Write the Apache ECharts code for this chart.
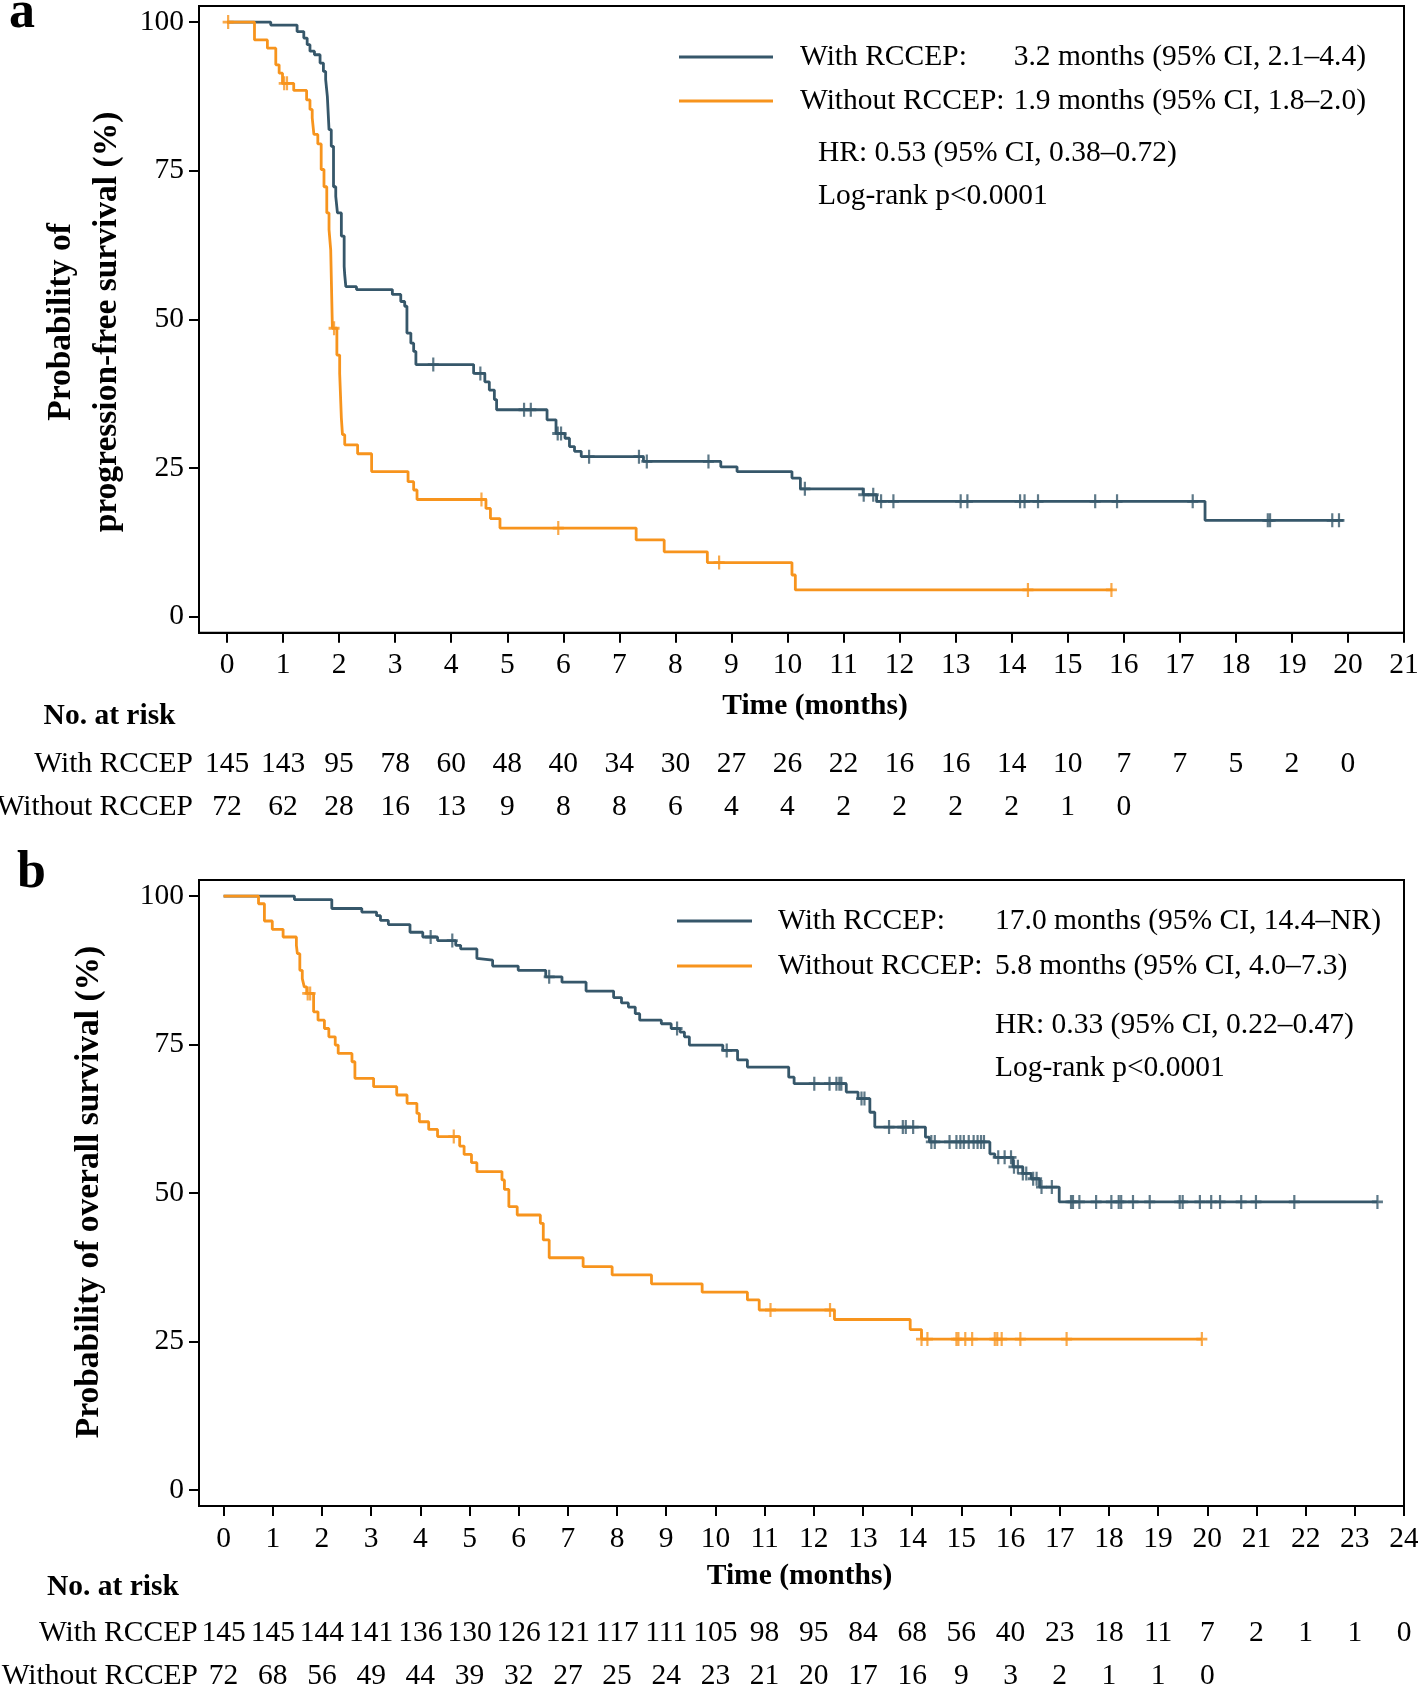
<!DOCTYPE html>
<html><head><meta charset="utf-8">
<script src="https://cdn.jsdelivr.net/npm/echarts@6/dist/echarts.min.js"></script>
<style>html,body{margin:0;padding:0;background:#fff}#c{width:1418px;height:1685px}</style>
</head><body><div id="c"></div>
<script>
const FONT = '"Liberation Serif","Times New Roman",serif';
const BLUE = '#36576a';
const ORANGE = '#f7941d';

// ---------- Panel a: progression-free survival ----------
const pfsTicksX = [0,1,2,3,4,5,6,7,8,9,10,11,12,13,14,15,16,17,18,19,20,21];
const yTicks = [0,25,50,75,100];
const pfsWith = [[0,100],[0.78,99.5],[1.25,98.4],[1.37,97.3],[1.43,96.2],[1.48,95.1],[1.56,94.5],[1.66,93.1],[1.72,91.7],[1.76,90.3],[1.79,87.5],[1.82,81.9],[1.86,79.1],[1.90,72.3],[1.94,70.7],[1.97,67.9],[2.04,64.0],[2.09,58.9],[2.10,57.5],[2.12,55.5],[2.31,55.0],[2.95,54.2],[3.10,53.0],[3.17,52.2],[3.21,47.7],[3.28,46.0],[3.33,44.6],[3.37,42.4],[4.40,40.9],[4.60,39.5],[4.68,38.1],[4.77,36.5],[4.81,34.8],[5.71,33.1],[5.87,30.8],[6.03,30.0],[6.11,28.6],[6.20,27.8],[6.32,26.9],[7.43,26.1],[8.81,25.2],[9.10,24.4],[10.08,23.3],[10.23,21.5],[11.35,20.5],[11.59,19.4],[17.45,16.2],[19.92,16.2]];
const pfsWithCensor = [[3.68,42.4],[4.52,40.9],[5.30,34.8],[5.42,34.8],[5.90,30.8],[5.96,30.8],[6.46,26.9],[7.35,26.9],[7.49,26.1],[8.59,26.1],[10.31,21.5],[11.36,20.5],[11.53,20.5],[11.67,19.4],[11.89,19.4],[13.09,19.4],[13.21,19.4],[14.15,19.4],[14.23,19.4],[14.47,19.4],[15.49,19.4],[15.88,19.4],[17.23,19.4],[18.57,16.2],[18.61,16.2],[19.72,16.2],[19.84,16.2]];
const pfsWithout = [[0,100],[0.49,97.0],[0.72,95.6],[0.87,92.8],[0.93,91.4],[0.99,89.7],[1.19,88.5],[1.42,86.9],[1.48,85.3],[1.52,83.9],[1.55,81.1],[1.62,79.5],[1.68,75.2],[1.73,72.3],[1.78,67.9],[1.82,65.1],[1.85,61.7],[1.88,48.5],[1.96,44.0],[2.01,40.9],[2.04,33.4],[2.06,30.6],[2.10,28.9],[2.33,27.4],[2.58,24.4],[3.23,22.7],[3.33,21.3],[3.39,19.7],[4.62,18.2],[4.70,16.5],[4.87,14.9],[7.30,12.9],[7.80,10.9],[8.57,9.1],[10.08,7.0],[10.14,4.5],[15.80,4.5]];
const pfsWithoutCensor = [[0.02,100],[1.02,89.7],[1.07,89.7],[1.91,48.5],[4.54,19.7],[5.91,14.9],[8.78,9.1],[14.29,4.5],[15.78,4.5]];
const pfsRiskWith = [145,143,95,78,60,48,40,34,30,27,26,22,16,16,14,10,7,7,5,2,0];
const pfsRiskWithout = [72,62,28,16,13,9,8,8,6,4,4,2,2,2,2,1,0];

// ---------- Panel b: overall survival ----------
const osTicksX = [0,1,2,3,4,5,6,7,8,9,10,11,12,13,14,15,16,17,18,19,20,21,22,23,24];
const osWith = [[0,100],[1.44,99.4],[2.20,97.9],[2.81,97.3],[3.11,96.7],[3.19,95.9],[3.35,95.2],[3.79,93.9],[4.05,93.1],[4.35,92.5],[4.72,91.7],[4.82,91.1],[5.15,89.5],[5.19,89.2],[5.47,88.2],[5.99,87.5],[6.55,86.4],[6.88,85.5],[7.37,84.0],[7.93,82.9],[8.09,82.0],[8.23,81.3],[8.37,80.2],[8.46,79.1],[8.90,78.5],[9.10,77.7],[9.28,77.1],[9.37,76.3],[9.47,74.9],[10.15,74.0],[10.45,72.4],[10.65,71.2],[11.49,69.5],[11.60,68.4],[12.66,67.0],[12.90,65.9],[13.14,63.6],[13.24,61.1],[14.27,59.4],[14.35,58.6],[15.58,56.6],[15.68,56.0],[16.05,54.4],[16.25,53.3],[16.42,52.4],[16.59,51.0],[16.99,48.5],[23.46,48.5]];
const osWithCensor = [[4.21,93.1],[4.65,92.5],[6.62,86.4],[9.22,77.7],[10.23,74.0],[12.01,68.4],[12.32,68.4],[12.46,68.4],[12.52,68.4],[12.56,68.4],[12.97,65.9],[13.03,65.9],[13.53,61.1],[13.81,61.1],[13.87,61.1],[14.02,61.1],[14.39,58.6],[14.46,58.6],[14.76,58.6],[14.90,58.6],[14.98,58.6],[15.05,58.6],[15.15,58.6],[15.25,58.6],[15.33,58.6],[15.40,58.6],[15.46,58.6],[15.75,56.0],[15.88,56.0],[16.01,56.0],[16.07,54.4],[16.15,54.4],[16.25,53.3],[16.32,53.3],[16.46,52.4],[16.53,52.4],[16.63,51.0],[16.84,51.0],[17.23,48.5],[17.27,48.5],[17.40,48.5],[17.74,48.5],[18.05,48.5],[18.20,48.5],[18.25,48.5],[18.49,48.5],[18.83,48.5],[19.44,48.5],[19.50,48.5],[19.85,48.5],[20.08,48.5],[20.26,48.5],[20.69,48.5],[20.99,48.5],[21.77,48.5],[23.46,48.5]];
const osWithout = [[0,100],[0.71,98.7],[0.83,95.8],[0.99,94.4],[1.21,93.1],[1.48,91.7],[1.50,90.3],[1.55,87.5],[1.60,86.1],[1.64,84.7],[1.69,83.6],[1.83,80.5],[1.92,79.1],[2.05,77.7],[2.14,76.3],[2.27,74.9],[2.33,73.5],[2.61,72.1],[2.67,69.3],[3.05,67.9],[3.52,66.5],[3.73,65.1],[3.93,63.4],[3.98,62.0],[4.17,60.7],[4.35,59.5],[4.80,57.9],[4.89,56.5],[5.04,55.1],[5.15,53.6],[5.66,52.2],[5.71,50.6],[5.80,47.7],[5.97,46.3],[6.44,44.9],[6.50,42.1],[6.62,39.1],[7.31,37.6],[7.90,36.2],[8.70,34.7],[9.73,33.3],[10.65,32.0],[10.89,30.3],[12.42,28.7],[13.96,27.0],[14.19,25.4],[19.89,25.4]];
const osWithoutCensor = [[1.71,83.6],[1.76,83.6],[4.68,59.5],[11.12,30.3],[12.33,30.3],[14.19,25.4],[14.31,25.4],[14.90,25.4],[14.94,25.4],[15.08,25.4],[15.22,25.4],[15.68,25.4],[15.73,25.4],[15.82,25.4],[16.20,25.4],[17.14,25.4],[19.89,25.4]];
const osRiskWith = [145,145,144,141,136,130,126,121,117,111,105,98,95,84,68,56,40,23,18,11,7,2,1,1,0];
const osRiskWithout = [72,68,56,49,44,39,32,27,25,24,23,21,20,17,16,9,3,2,1,1,0];

const seriesNames = ['With RCCEP','Without RCCEP'];
const pfsMedians = ['3.2 months (95% CI, 2.1\u20134.4)','1.9 months (95% CI, 1.8\u20132.0)'];
const osMedians = ['17.0 months (95% CI, 14.4\u2013NR)','5.8 months (95% CI, 4.0\u20137.3)'];
const pfsStats = ['HR: 0.53 (95% CI, 0.38\u20130.72)','Log-rank p<0.0001'];
const osStats = ['HR: 0.33 (95% CI, 0.22\u20130.47)','Log-rank p<0.0001'];

const PLUS = 'path://M4,0H6V4H10V6H6V10H4V6H0V4H4Z';
const FS = 29.5;
const txt = {fontFamily: FONT, fontSize: FS, color: '#000'};

function mainX(grid, max, ticks, nameGap, namePad) {
  return {
    type: 'value', gridIndex: grid, min: -0.5, max: max, position: 'bottom',
    axisLine: {show: true, onZero: false, lineStyle: {color: '#000', width: 2}},
    axisTick: {show: true, length: 10, customValues: ticks, lineStyle: {color: '#000', width: 2}},
    axisLabel: Object.assign({margin: 18, customValues: ticks}, txt),
    splitLine: {show: false},
    name: 'Time (months)', nameLocation: 'middle', nameGap: nameGap,
    nameTextStyle: {fontFamily: FONT, fontSize: FS, fontWeight: 'bold', color: '#000', padding: namePad}
  };
}
function riskX(grid, max, arr, offset, label, gap) {
  return {
    type: 'value', gridIndex: grid, min: -0.5, max: max, position: 'bottom', offset: offset,
    axisLine: {show: false, onZero: false}, axisTick: {show: false}, splitLine: {show: false},
    axisLabel: Object.assign({margin: 0, verticalAlign: 'middle', customValues: arr.map((_, i) => i),
      formatter: v => { const i = Math.round(v); return arr[i] !== undefined ? String(arr[i]) : ''; }}, txt),
    name: label, nameLocation: 'start', nameGap: gap,
    nameTextStyle: Object.assign({align: 'right', verticalAlign: 'middle'}, txt)
  };
}
function mainY(grid) {
  return {
    type: 'value', gridIndex: grid, min: -2.7, max: 102.7,
    axisLine: {show: true, onZero: false, lineStyle: {color: '#000', width: 2}},
    axisTick: {show: true, length: 10, customValues: yTicks, lineStyle: {color: '#000', width: 2}},
    axisLabel: Object.assign({margin: 15, customValues: yTicks}, txt),
    splitLine: {show: false}
  };
}
function km(name, data, color, xi, yi) {
  return {type: 'line', name: name, data: data, step: 'end', symbol: 'none', xAxisIndex: xi, yAxisIndex: yi,
    lineStyle: {color: color, width: 2.8}, itemStyle: {color: color}, z: 3};
}
function cens(name, data, color, xi, yi) {
  return {type: 'scatter', name: name, data: data, symbol: PLUS, symbolSize: [11, 14], xAxisIndex: xi, yAxisIndex: yi,
    itemStyle: {color: color}, z: 4};
}
function legend(left, top, w, pad, gap) {
  return {data: seriesNames, orient: 'vertical', left: left, top: top, padding: 0, icon: 'rect',
    itemWidth: w, itemHeight: 3, itemGap: gap, selectedMode: false, formatter: n => n + ':',
    textStyle: Object.assign({lineHeight: 30, padding: [0, 0, 0, pad]}, txt)};
}
function t(text, x, y, opts) {
  return {type: 'text', x: x, y: y, style: Object.assign({text: text, fill: '#000', fontFamily: FONT, fontSize: FS,
    align: 'left', verticalAlign: 'middle'}, opts || {})};
}

const option = {
  animation: false,
  backgroundColor: '#fff',
  textStyle: {fontFamily: FONT},
  grid: [
    {left: 199, top: 6, width: 1205, height: 626.7, show: true, borderColor: '#000', borderWidth: 2, containLabel: false, outerBoundsMode: 'none'},
    {left: 199, top: 880, width: 1205, height: 626, show: true, borderColor: '#000', borderWidth: 2, containLabel: false, outerBoundsMode: 'none'}
  ],
  xAxis: [
    mainX(0, 21, pfsTicksX, 59, [0, 0, 0, 27]),
    riskX(0, 21, pfsRiskWith, 131.3, 'With RCCEP', 6),
    riskX(0, 21, pfsRiskWithout, 174.3, 'Without RCCEP', 6),
    mainX(1, 24, osTicksX, 55, [0, 4, 0, 0]),
    riskX(1, 24, osRiskWith, 127, 'With RCCEP', 1),
    riskX(1, 24, osRiskWithout, 170, 'Without RCCEP', 1)
  ],
  yAxis: [mainY(0), mainY(1)],
  legend: [legend(679, 42, 94, 22, 14), legend(677, 906, 75, 21, 15)],
  series: [
    km(seriesNames[0], pfsWith, BLUE, 0, 0),
    km(seriesNames[1], pfsWithout, ORANGE, 0, 0),
    cens('pfs-with-censored', pfsWithCensor, BLUE, 0, 0),
    cens('pfs-without-censored', pfsWithoutCensor, ORANGE, 0, 0),
    km(seriesNames[0], osWith, BLUE, 3, 1),
    km(seriesNames[1], osWithout, ORANGE, 3, 1),
    cens('os-with-censored', osWithCensor, BLUE, 3, 1),
    cens('os-without-censored', osWithoutCensor, ORANGE, 3, 1)
  ],
  graphic: [
    t('a', 9, 14, {fontSize: 52, fontWeight: 'bold'}),
    t('b', 17, 874, {fontSize: 52, fontWeight: 'bold'}),
    t('Probability of\nprogression-free survival (%)', 84, 322, {fontSize: 33.5, fontWeight: 'bold', align: 'center', lineHeight: 46}),
    t('Probability of overall survival (%)', 89, 1192, {fontSize: 33.5, fontWeight: 'bold', align: 'center'}),
    t('No. at risk', 43.6, 716.5, {fontWeight: 'bold'}),
    t('No. at risk', 47, 1587, {fontWeight: 'bold'}),
    t(pfsMedians[0], 1366, 57, {align: 'right'}),
    t(pfsMedians[1], 1366, 101, {align: 'right'}),
    t(pfsStats[0], 818, 153.5),
    t(pfsStats[1], 818, 196),
    t(osMedians[0], 995, 921),
    t(osMedians[1], 995, 966),
    t(osStats[0], 995, 1025),
    t(osStats[1], 995, 1068)
  ]
};
option.graphic[2].rotation = Math.PI / 2;
option.graphic[3].rotation = Math.PI / 2;

const chart = echarts.init(document.getElementById('c'), null, {renderer: 'canvas'});
chart.setOption(option);
</script>
</body></html>
